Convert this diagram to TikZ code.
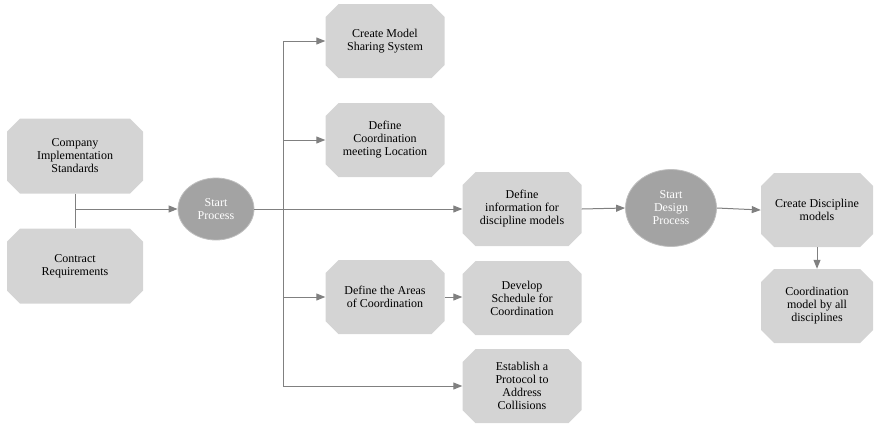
\documentclass[tikz,border=0pt]{standalone}
\usepackage{fontspec}
\setmainfont{Liberation Serif}
\usepackage{tikz}
\usetikzlibrary{
	arrows.meta, shapes.geometric, shapes.misc, positioning, calc
}
\definecolor{boxgray}     {RGB}{212, 212, 212}
\definecolor{ovalgray}    {RGB}{163, 163, 163}
\definecolor{linegray}    {RGB}{128, 128, 128}

\begin{document}
\begin{tikzpicture}[x=1pt,y=-1pt,
		task/.style={chamfered rectangle, chamfered rectangle xsep=6.5pt, chamfered rectangle ysep=6.5pt,
			fill=boxgray, minimum width=119pt, minimum height=74pt, inner sep=0pt,
			align=center, font=\fontsize{12}{13}\selectfont},
		startnode/.style={ellipse, fill=ovalgray, draw=ovalgray!70, line width=0.8pt, inner sep=0pt,
			text=white, align=center, font=\fontsize{12}{13}\selectfont},
		link/.style={draw=linegray, line width=1pt},
		flow/.style={link, -{Triangle[length=9pt, width=7pt]}}]
						\useasboundingbox (0,0) rectangle (875,424);
						% inputs on the left
						\node[task, minimum width=136pt, minimum height=75pt] (comp) at (75,156) {Company\\Implementation\\Standards};
						\node[task, minimum width=136pt, minimum height=75pt] (contr) at (75,266) {Contract\\Requirements};
						\node[startnode, minimum width=76pt, minimum height=62pt] (start) at (216,209) {Start\\Process};
						% tasks fed from the bus
						\node[task] (share) at (385,41) {Create Model\\Sharing System};
						\node[task] (meet) at (385,140) {Define\\Coordination\\meeting Location};
						\node[task] (info) at (522,209) {Define\\information for\\discipline models};
						\node[task] (areas) at (385,297) {Define the Areas\\of Coordination};
						\node[task] (sched) at (522,298) {Develop\\Schedule for\\Coordination};
						\node[task] (proto) at (522,386) {Establish a\\Protocol to\\Address\\Collisions};
						% design stage
						\node[startnode, minimum width=91pt, minimum height=77pt] (design) at (671,208) {Start\\Design\\Process};
						\node[task, minimum width=112pt] (disc) at (817,210) {Create Discipline\\models};
						\node[task, minimum width=112pt] (coord) at (817,306) {Coordination\\model by all\\disciplines};
						% connectors
						\coordinate (join) at (75,209);
						\coordinate (bus) at (283,209);
						\draw[link] (comp.south) -- (contr.north);
						\draw[flow] (join) -- (start.west);
						\draw[link] (start.east) -- (bus);
						\draw[link] (283,41) -- (283,386);
						\draw[flow] (share.west -| bus) -- (share.west);
						\draw[flow] (meet.west -| bus) -- (meet.west);
						\draw[flow] (bus) -- (info.west);
						\draw[flow] (areas.west -| bus) -- (areas.west);
						\draw[flow] (proto.west -| bus) -- (proto.west);
						\draw[flow] (areas.east) -- (sched.west |- areas.east);
						\draw[flow] (info.east) -- (design.west);
						\draw[flow] (design.east) -- (disc.west);
						\draw[flow] (disc.south) -- (coord.north);
					\end{tikzpicture}
\end{document}
